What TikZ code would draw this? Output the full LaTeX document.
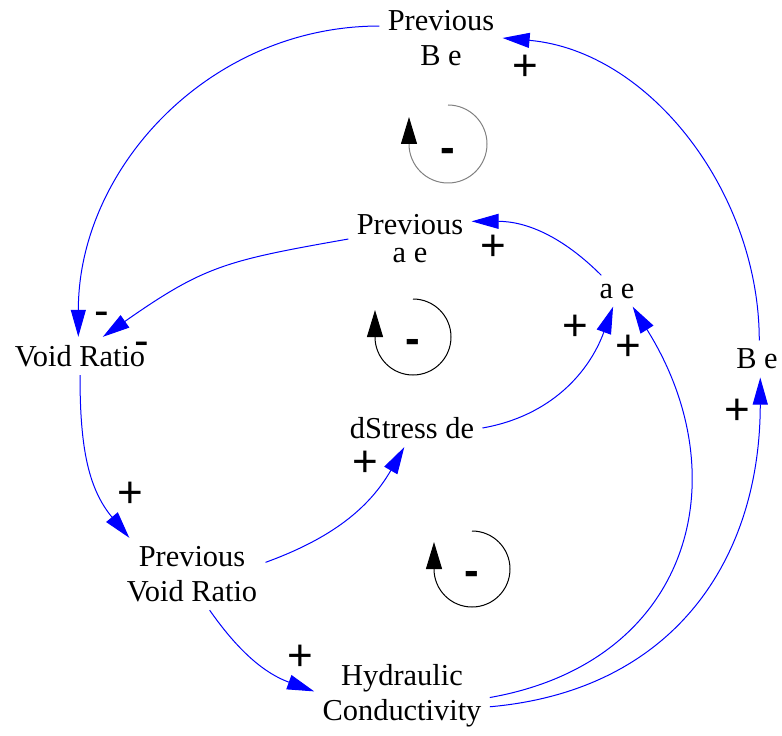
\documentclass[tikz,border=0pt]{standalone}
\usepackage{fontspec}
\setmainfont{Liberation Serif}
\newfontfamily\signfont{Liberation Sans}
\usetikzlibrary{arrows.meta}
\tikzset{
  var/.style={font=\fontsize{15.2pt}{17.5pt}\selectfont, align=center, inner sep=4pt},
  lnk/.style={-{Triangle[length=13.5pt,width=7.5pt]}, blue, line width=0.5pt},
  pol/.style={font=\fontsize{22pt}{22pt}\signfont, inner sep=0pt},
  lpol/.style={font=\fontsize{22pt}{22pt}\signfont\bfseries, inner sep=0pt},
  lp/.style={-{Triangle[length=13.5pt,width=8pt,color=black]}, line width=0.5pt}
}

\begin{document}
\begin{tikzpicture}[x=0.5pt, y=0.5pt]
  \useasboundingbox (0,0) rectangle (782,735);
  % variables
  \node[var] (pbe) at (441,697) {Previous\\B e};
  \node[var] (pae) at (410,496) {Previous\\[-3.5pt]a e};
  \node[var] (vr) at (80,379) {Void Ratio};
  \node[var] (ae) at (617,444) {a e};
  \node[var] (be) at (757,376) {B e};
  \node[var] (ds) at (412,307) {dStress de};
  \node[var] (pvr) at (192,161) {Previous\\Void Ratio};
  \node[var] (hc) at (402,39) {Hydraulic\\Conductivity};
  % links
  \draw[lnk] (pbe.169) to[out=180,in=90] (vr.95);
  \draw[lnk] (be.83) to[out=90,in=-5,looseness=0.95] (pbe.east);
  \draw[lnk] (pae.west) to[out=190,in=35,looseness=1.2] (vr.40);
  \draw[lnk] (ae.135) to[out=135,in=0] (pae.16);
  \draw[lnk] (vr.south) to[out=-90,in=130] (pvr.150);
  \draw[lnk] (pvr.9) to[out=20,in=240] (ds.248);
  \draw[lnk] (ds.east) to[out=10,in=250] (ae.256);
  \draw[lnk] (pvr.296) to[out=-55,in=160] (hc.177);
  \draw[lnk] (hc.-1) to[out=10,in=-58,looseness=1.25] (ae.-45);
  \draw[lnk] (hc.-7) to[out=5,in=-90,looseness=1.1] (be.-80);
  % polarities
  \node[pol] (p1) at (525,667) {+};
  \node[pol] (p2) at (493,487) {+};
  \node[pol] (p3) at (102,416) {-};
  \node[pol] (p4) at (142,386) {-};
  \node[pol] (p5) at (130,240) {+};
  \node[pol] (p6) at (365,271) {+};
  \node[pol] (p7) at (575,407) {+};
  \node[pol] (p8) at (628,387) {+};
  \node[pol] (p9) at (737,323) {+};
  \node[pol] (p10) at (300,77) {+};
  % loops
  \draw[lp, gray] (448,630) arc[start angle=90, end angle=-180, radius=39] -- ++(0,27);
  \node[lpol] (l1) at (448,580) {-};
  \draw[lp] (413,436) arc[start angle=90, end angle=-180, radius=38] -- ++(0,27);
  \node[lpol] (l2) at (413,389) {-};
  \draw[lp] (472,204) arc[start angle=90, end angle=-180, radius=38] -- ++(0,27);
  \node[lpol] (l3) at (472,157) {-};
\end{tikzpicture}
\end{document}
